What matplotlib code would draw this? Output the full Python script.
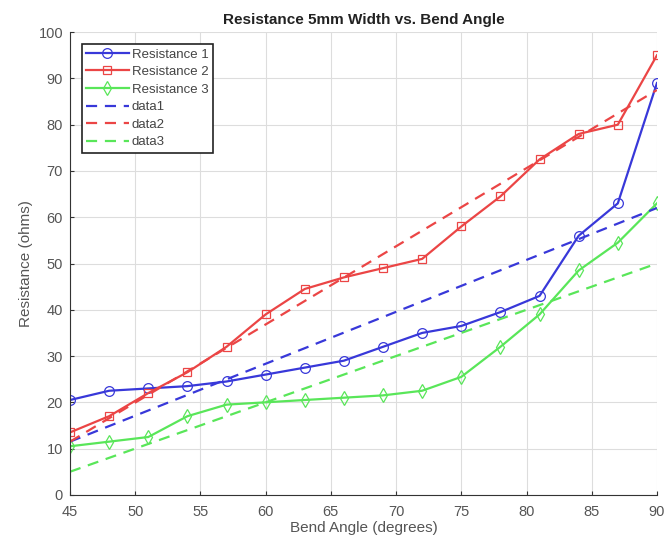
import matplotlib
matplotlib.use("Agg")
import matplotlib.pyplot as plt

plt.rcParams['font.family'] = ['Liberation Sans', 'DejaVu Sans']

# bend angles (degrees)
angles = [45, 48, 51, 54, 57, 60, 63, 66, 69, 72, 75, 78, 81, 84, 87, 90]

res1 = [20.5, 22.5, 23, 23.5, 24.5, 26, 27.5, 29, 32, 35, 36.5, 39.5, 43, 56, 63, 89]
res2 = [13.5, 17, 22, 26.5, 32, 39, 44.5, 47, 49, 51, 58, 64.5, 72.5, 78, 80, 95]
res3 = [10.5, 11.5, 12.5, 17, 19.5, 20, 20.5, 21, 21.5, 22.5, 25.5, 32, 39, 48.5, 54.5, 63]

# linear fit lines (end points)
fit_x = [45, 90]
fit1 = [11.5, 62]
fit2 = [11.5, 87.5]
fit3 = [5, 50]

blue = (0.22, 0.22, 0.85)
red = (0.92, 0.27, 0.27)
green = (0.35, 0.9, 0.35)

fig = plt.figure(figsize=(6.7, 5.45), dpi=100)
ax = fig.add_axes([0.1045, 0.092, 0.876, 0.849])

ax.plot(angles, res1, '-o', color=blue, lw=1.6, ms=7, mfc='none', mew=0.9, label='Resistance 1')
ax.plot(angles, res2, '-s', color=red, lw=1.6, ms=6, mfc='none', mew=0.9, label='Resistance 2')
ax.plot(angles, res3, '-d', color=green, lw=1.6, ms=7, mfc='none', mew=0.9, label='Resistance 3')
ax.plot(fit_x, fit1, '--', color=blue, lw=1.6, dashes=(5, 3.5), label='data1')
ax.plot(fit_x, fit2, '--', color=red, lw=1.6, dashes=(5, 3.5), label='data2')
ax.plot(fit_x, fit3, '--', color=green, lw=1.6, dashes=(5, 3.5), label='data3')

ax.set_xlim(45, 90)
ax.set_ylim(0, 100)
ax.set_xticks(range(45, 91, 5))
ax.set_yticks(range(0, 101, 10))
ax.grid(True, color='#dddddd', lw=0.8)
ax.spines['top'].set_visible(False)
ax.spines['right'].set_visible(False)
ax.spines['left'].set_color('#333333')
ax.spines['bottom'].set_color('#333333')
ax.tick_params(colors='#333333', labelcolor='#555555', labelsize=10.5, length=3, direction='in')
ax.tick_params(axis='x', pad=7)
ax.tick_params(axis='y', pad=5)

ax.set_title('Resistance 5mm Width vs. Bend Angle', fontsize=11, fontweight='bold', color='#222222')
ax.set_xlabel('Bend Angle (degrees)', fontsize=11, color='#555555', labelpad=2)
ax.set_ylabel('Resistance (ohms)', fontsize=11, color='#555555')

leg = ax.legend(loc='upper left', bbox_to_anchor=(0.02, 0.975), fontsize=9.5, fancybox=False,
                framealpha=1, edgecolor='#222222', handlelength=3.2, borderpad=0.35,
                labelspacing=0.4, handletextpad=0.25, borderaxespad=0)
leg.get_frame().set_linewidth(1.2)
for t in leg.get_texts():
    t.set_color('#444444')

fig.savefig('out.png', dpi=100)
